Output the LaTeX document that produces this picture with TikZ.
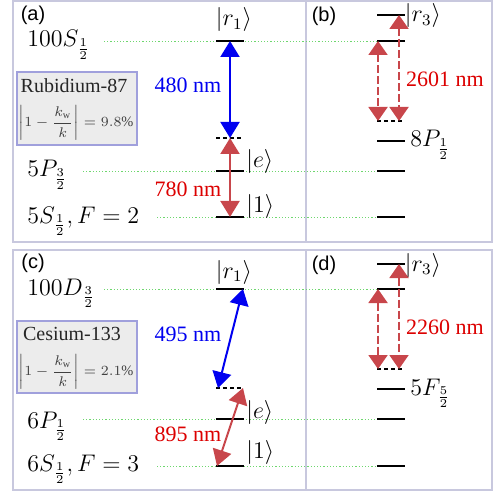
\documentclass[tikz,border=0pt]{standalone}
\usepackage{fontspec}
\setmainfont{Liberation Serif}
\setsansfont{Liberation Sans}
\usepackage{amsmath}
\usetikzlibrary{arrows.meta}
\definecolor{framegray}{RGB}{200, 200, 222}
\definecolor{boxedge}{RGB}{160, 160, 220}
\definecolor{boxfill}{RGB}{236, 236, 236}
\definecolor{lred}{RGB}{200, 70, 75}
\definecolor{tred}{RGB}{220, 0, 0}
\definecolor{lblue}{RGB}{0, 0, 240}
\definecolor{gline}{RGB}{110, 215, 110}

\begin{document}
\begin{tikzpicture}[
    x=0.5pt, y=-0.5pt,
    panel/.style={draw=framegray, line width=0.9pt},
    tag/.style={font=\sffamily\fontsize{10}{12}\selectfont, inner sep=0pt},
    lvl/.style={line width=0.75pt},
    vlvl/.style={line width=0.75pt, dash pattern=on 2pt off 1.5pt},
    guide/.style={draw=gline, line width=0.45pt, dash pattern=on 0.6pt off 1pt},
    term/.style={font=\fontsize{11.5}{13}\selectfont, inner sep=0pt, anchor=base west},
    ket/.style={font=\fontsize{11.5}{13}\selectfont, inner sep=0pt},
    nm/.style={font=\rmfamily\fontsize{11}{13}\selectfont, inner sep=0pt},
    infobox/.style={draw=boxedge, fill=boxfill, line width=0.6pt},
    bluearr/.style={draw=lblue, line width=1pt, {Triangle[length=8pt,width=9.5pt]}-{Triangle[length=8pt,width=9.5pt]}},
    redarr/.style={draw=lred, line width=1pt, {Triangle[length=8pt,width=9.5pt]}-{Triangle[length=8pt,width=9.5pt]}},
    dasharr/.style={draw=lred, line width=1pt, dash pattern=on 4pt off 1.5pt, {Triangle[length=7pt,width=9.5pt]}-{Triangle[length=7pt,width=9.5pt]}},
]
    \useasboundingbox (0,0) rectangle (496,491);

    % Panels
    \draw[panel] (13,1) rectangle (492,242);
    \draw[panel] (306,1) -- (306,242);
    \draw[panel] (13,250) rectangle (492,490);
    \draw[panel] (306,250) -- (306,490);

    % (a) Rubidium-87
    \node[tag] (taga) at (33,15) {(a)};
    \draw[guide] (104,41) -- (377,41);
    \draw[guide] (83,171) -- (377,171);
    \draw[guide] (157,217) -- (377,217);
    \draw[lvl] (216,41) -- (244,41);
    \draw[vlvl] (216,138) -- (244,138);
    \draw[lvl] (216,171) -- (244,171);
    \draw[lvl] (216,217) -- (244,217);
    \coordinate (a-r1) at (230,41);
    \coordinate (a-v) at (230,138);
    \coordinate (a-g) at (230,217);
    \draw[bluearr] (a-r1) -- (a-v);
    \draw[redarr] (a-v) -- (a-g);
    \node[ket] (ra) at (234,20) {$|r_1\rangle$};
    \node[ket, anchor=west] (ea) at (246,162) {$|e\rangle$};
    \node[ket, anchor=west] (ga) at (246,207) {$|1\rangle$};
    \node[term] (na1) at (27,47) {$100S_{\frac{1}{2}}$};
    \node[term] (na2) at (27,177) {$5P_{\frac{3}{2}}$};
    \node[term] (na3) at (27,223) {$5S_{\frac{1}{2}}, F=2$};
    \node[nm, text=lblue] (wa1) at (188,85) {480 nm};
    \node[nm, text=tred] (wa2) at (188,189) {780 nm};
    \draw[infobox] (17,72) rectangle (137,145);
    \node[font=\rmfamily\fontsize{10}{12}\selectfont, text=black!85, inner sep=0pt] (rb) at (74,86) {Rubidium-87};
    \node[font=\fontsize{7.2}{9}\selectfont, text=black!75, inner sep=0pt] (rbf) at (76,123) {$\displaystyle\left|1-\frac{k_{\mathrm{w}}}{k}\right|=9.8\%$};

    % (b) 2601 nm
    \node[tag] (tagb) at (324,16) {(b)};
    \draw[lvl] (377,15) -- (405,15);
    \draw[lvl] (377,41) -- (405,41);
    \draw[vlvl] (377,121) -- (405,121);
    \draw[lvl] (377,141) -- (405,141);
    \draw[lvl] (377,171) -- (405,171);
    \draw[lvl] (377,217) -- (405,217);
    \coordinate (b-l1) at (378,41);
    \coordinate (b-l2) at (378,121);
    \coordinate (b-r1) at (399,15);
    \coordinate (b-r2) at (399,121);
    \draw[dasharr] (b-l1) -- (b-l2);
    \draw[dasharr] (b-r1) -- (b-r2);
    \node[ket] (rb3) at (423,16) {$|r_3\rangle$};
    \node[nm, text=tred] (wb) at (445,79) {2601 nm};
    \node[term] (nb) at (410,147) {$8P_{\frac{1}{2}}$};

    % (c) Cesium-133
    \node[tag] (tagc) at (33,263) {(c)};
    \draw[guide] (104,289) -- (377,289);
    \draw[guide] (83,419) -- (377,419);
    \draw[guide] (157,466) -- (377,466);
    \draw[lvl] (216,289) -- (244,289);
    \draw[vlvl] (216,388) -- (244,388);
    \draw[lvl] (216,419) -- (244,419);
    \draw[lvl] (216,466) -- (244,466);
    \coordinate (c-r1) at (243,289);
    \coordinate (c-vl) at (218,388);
    \coordinate (c-vr) at (243,388);
    \coordinate (c-g) at (217,466);
    \draw[bluearr] (c-r1) -- (c-vl);
    \draw[redarr] (c-vr) -- (c-g);
    \node[ket] (rc) at (234,272) {$|r_1\rangle$};
    \node[ket, anchor=west] (ec) at (246,412) {$|e\rangle$};
    \node[ket, anchor=west] (gc) at (246,452) {$|1\rangle$};
    \node[term] (nc1) at (27,295) {$100D_{\frac{3}{2}}$};
    \node[term] (nc2) at (27,428) {$6P_{\frac{1}{2}}$};
    \node[term] (nc3) at (27,471) {$6S_{\frac{1}{2}}, F=3$};
    \node[nm, text=lblue] (wc1) at (188,334) {495 nm};
    \node[nm, text=tred] (wc2) at (188,434) {895 nm};
    \draw[infobox] (17,321) rectangle (137,393);
    \node[font=\rmfamily\fontsize{10}{12}\selectfont, text=black!85, inner sep=0pt] (cs) at (72,334) {Cesium-133};
    \node[font=\fontsize{7.2}{9}\selectfont, text=black!75, inner sep=0pt] (csf) at (76,372) {$\displaystyle\left|1-\frac{k_{\mathrm{w}}}{k}\right|=2.1\%$};

    % (d) 2260 nm
    \node[tag] (tagd) at (324,265) {(d)};
    \draw[lvl] (377,264) -- (405,264);
    \draw[lvl] (377,289) -- (405,289);
    \draw[vlvl] (377,369) -- (405,369);
    \draw[lvl] (377,389) -- (405,389);
    \draw[lvl] (377,419) -- (405,419);
    \draw[lvl] (377,466) -- (405,466);
    \coordinate (d-l1) at (378,289);
    \coordinate (d-l2) at (378,369);
    \coordinate (d-r1) at (399,264);
    \coordinate (d-r2) at (399,369);
    \draw[dasharr] (d-l1) -- (d-l2);
    \draw[dasharr] (d-r1) -- (d-r2);
    \node[ket] (rd3) at (423,265) {$|r_3\rangle$};
    \node[nm, text=tred] (wd) at (445,327) {2260 nm};
    \node[term] (nd) at (410,395) {$5F_{\frac{5}{2}}$};
\end{tikzpicture}
\end{document}
